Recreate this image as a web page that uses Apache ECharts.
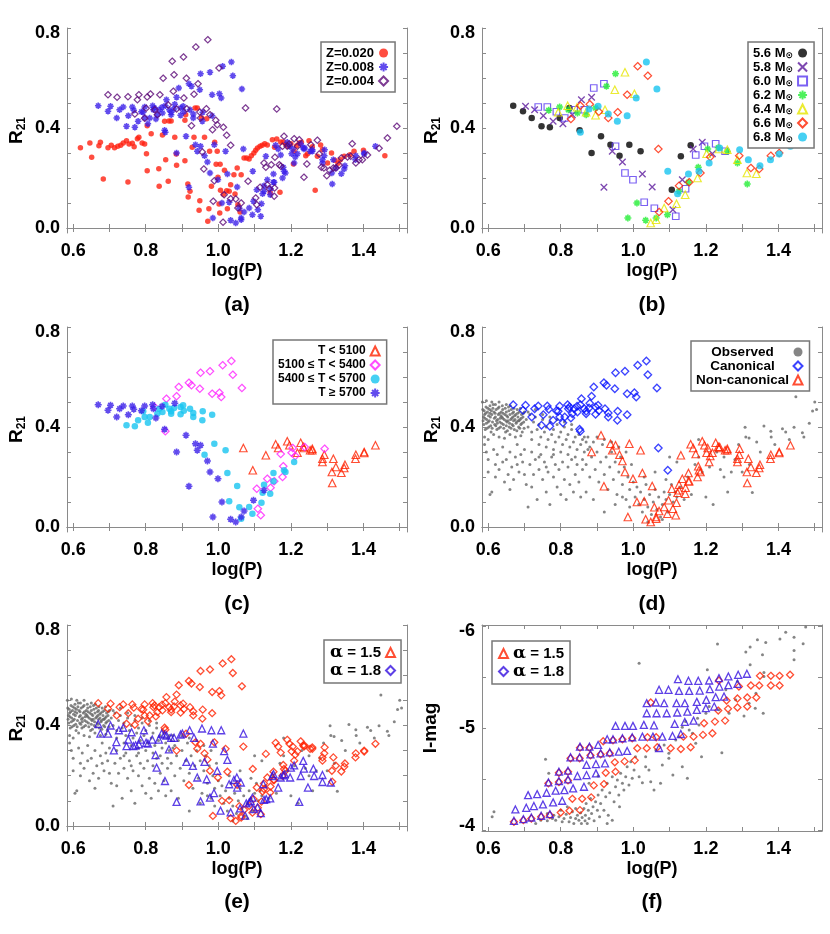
<!DOCTYPE html>
<html>
<head>
<meta charset="utf-8">
<script src="https://cdn.jsdelivr.net/npm/echarts@6.0.0/dist/echarts.min.js"></script>
<style>
html, body { margin: 0; padding: 0; background: #fff; }
#main { width: 830px; height: 934px; }
</style>
</head>
<body>
<div id="main"></div>
<script>
// model points, one array per mass
// each point: [logP, R21, T class (1:<5100 2:5100-5400 3:5400-5700 4:>=5700), canonical 1/0]
var m56 = [[0.669,0.489,4,1],[0.696,0.467,4,1],[0.720,0.440,4,1],[0.747,0.407,3,1],[0.770,0.403,3,1],[0.797,0.440,3,1],[0.824,0.480,2,1],[0.852,0.391,4,1],[0.885,0.300,4,0],[0.911,0.367,4,0],[0.937,0.333,4,0],[0.962,0.289,3,0],[0.989,0.333,3,0],[1.020,0.307,3,0],[1.106,0.153,2,0],[1.131,0.287,1,0],[1.158,0.331,1,0]];
var m58 = [[0.703,0.487,4,1],[0.728,0.473,4,1],[0.752,0.449,4,1],[0.779,0.427,3,1],[0.806,0.417,3,1],[0.832,0.453,3,1],[0.857,0.513,2,1],[0.885,0.523,2,1],[0.919,0.163,4,0],[0.942,0.307,4,0],[0.970,0.264,4,0],[1.025,0.216,3,0],[1.052,0.164,3,0],[1.109,0.073,2,0],[1.135,0.193,2,0],[1.165,0.316,1,0],[1.190,0.343,1,0],[1.218,0.297,1,0]];
var m60 = [[0.738,0.484,4,1],[0.763,0.484,4,1],[0.788,0.465,4,1],[0.811,0.440,3,1],[0.837,0.473,3,1],[0.865,0.473,3,1],[0.891,0.560,2,1],[0.919,0.577,2,1],[0.951,0.327,4,0],[0.977,0.220,4,0],[0.999,0.193,4,0],[1.030,0.103,3,0],[1.058,0.079,3,0],[1.117,0.047,2,0],[1.144,0.157,2,0],[1.172,0.292,2,0],[1.196,0.327,1,0],[1.227,0.337,1,0],[1.253,0.307,1,0]];
var m62 = [[0.767,0.471,4,1],[0.797,0.484,4,1],[0.821,0.473,4,1],[0.846,0.460,3,1],[0.870,0.453,3,1],[0.896,0.480,3,1],[0.926,0.567,2,1],[0.951,0.617,2,1],[0.985,0.040,4,0],[1.010,0.100,4,0],[1.034,0.031,4,0],[1.063,0.040,4,0],[1.094,0.053,3,0],[1.126,0.147,4,0],[1.152,0.183,3,0],[1.179,0.243,2,0],[1.205,0.316,2,0],[1.234,0.321,1,0],[1.259,0.307,1,0],[1.287,0.260,1,0],[1.314,0.176,1,0]];
var m64 = [[0.793,0.463,3,1],[0.819,0.489,4,1],[0.845,0.483,4,1],[0.870,0.463,3,1],[0.896,0.451,3,1],[0.922,0.473,3,1],[0.949,0.553,2,1],[0.977,0.623,2,1],[1.003,0.537,2,1],[1.048,0.020,4,0],[1.063,0.033,3,0],[1.085,0.080,3,0],[1.119,0.097,3,0],[1.143,0.133,3,0],[1.177,0.200,2,0],[1.202,0.297,2,0],[1.236,0.316,1,0],[1.259,0.313,1,0],[1.287,0.273,1,0],[1.313,0.220,1,0],[1.339,0.217,1,0]];
var m66 = [[0.828,0.436,4,1],[0.854,0.489,3,1],[0.880,0.495,4,1],[0.905,0.465,3,1],[0.931,0.440,3,1],[0.957,0.463,3,1],[0.983,0.533,2,1],[1.012,0.647,2,1],[1.040,0.609,2,1],[1.069,0.316,1,1],[1.071,0.064,4,0],[1.097,0.107,4,0],[1.126,0.169,3,0],[1.154,0.183,2,0],[1.185,0.220,3,0],[1.212,0.284,2,0],[1.292,0.289,1,0],[1.324,0.240,1,0],[1.347,0.236,1,0],[1.379,0.289,1,0],[1.402,0.300,1,0]];
var m68 = [[0.854,0.383,2,1],[0.878,0.476,3,1],[0.903,0.487,3,1],[0.931,0.456,3,1],[0.956,0.427,3,1],[0.983,0.449,3,1],[1.008,0.520,2,1],[1.036,0.664,2,1],[1.065,0.556,2,1],[1.095,0.227,1,1],[1.122,0.137,3,0],[1.152,0.216,3,0],[1.181,0.227,3,0],[1.209,0.260,3,0],[1.238,0.320,2,0],[1.293,0.313,2,0],[1.317,0.273,1,0],[1.349,0.249,1,0],[1.378,0.273,1,0],[1.402,0.296,1,0],[1.433,0.327,1,0]];
var massNames = ['5.6 M','5.8 M','6.0 M','6.2 M','6.4 M','6.6 M','6.8 M'];
var tNames = ['T < 5100','5100 \u2264 T < 5400','5400 \u2264 T < 5700','T \u2265 5700'];

// panel (a), other metallicities
var z020 = [[0.620,0.321],[0.646,0.340],[0.651,0.283],[0.671,0.329],[0.675,0.343],[0.683,0.196],[0.696,0.321],[0.705,0.331],[0.714,0.321],[0.723,0.327],[0.731,0.331],[0.738,0.340],[0.747,0.349],[0.754,0.336],[0.763,0.339],[0.768,0.325],[0.777,0.357],[0.781,0.363],[0.790,0.340],[0.797,0.336],[0.751,0.184],[0.802,0.297],[0.804,0.229],[0.815,0.377],[0.837,0.167],[0.836,0.237],[0.846,0.372],[0.804,0.409],[0.852,0.427],[0.855,0.273],[0.862,0.187],[0.864,0.428],[0.870,0.428],[0.880,0.363],[0.885,0.251],[0.884,0.296],[0.908,0.431],[0.908,0.269],[0.916,0.176],[0.922,0.147],[0.917,0.124],[0.928,0.323],[0.933,0.363],[0.936,0.480],[0.910,0.453],[0.942,0.480],[0.947,0.071],[0.949,0.109],[0.954,0.440],[0.962,0.363],[0.968,0.437],[0.971,0.027],[0.976,0.307],[0.974,0.077],[0.981,0.167],[0.990,0.343],[0.994,0.255],[0.997,0.307],[0.999,0.203],[1.002,0.096],[1.004,0.060],[1.005,0.255],[1.006,0.151],[1.014,0.135],[1.017,0.231],[1.023,0.149],[1.025,0.077],[1.030,0.147],[1.034,0.173],[1.043,0.213],[1.046,0.136],[1.052,0.240],[1.054,0.093],[1.060,0.064],[1.063,0.213],[1.071,0.280],[1.078,0.280],[1.085,0.276],[1.091,0.289],[1.098,0.300],[1.103,0.311],[1.108,0.320],[1.115,0.327],[1.121,0.331],[1.128,0.337],[1.135,0.332],[1.143,0.141],[1.149,0.353],[1.155,0.323],[1.161,0.356],[1.170,0.143],[1.172,0.344],[1.179,0.344],[1.186,0.335],[1.192,0.327],[1.200,0.337],[1.207,0.256],[1.209,0.307],[1.216,0.329],[1.223,0.340],[1.229,0.343],[1.241,0.289],[1.246,0.297],[1.250,0.349],[1.259,0.325],[1.267,0.151],[1.273,0.287],[1.282,0.332],[1.287,0.313],[1.301,0.260],[1.312,0.300],[1.321,0.271],[1.330,0.259],[1.336,0.273],[1.347,0.287],[1.363,0.293],[1.374,0.307],[1.400,0.311],[1.459,0.289]];
var z004 = [[0.696,0.533],[0.721,0.523],[0.751,0.525],[0.777,0.513],[0.781,0.533],[0.804,0.524],[0.813,0.536],[0.801,0.479],[0.797,0.439],[0.770,0.456],[0.825,0.473],[0.832,0.453],[0.839,0.533],[0.848,0.599],[0.862,0.492],[0.876,0.547],[0.873,0.667],[0.878,0.613],[0.885,0.476],[0.905,0.520],[0.912,0.599],[0.904,0.684],[0.913,0.477],[0.933,0.535],[0.938,0.724],[0.944,0.577],[0.949,0.464],[0.951,0.440],[0.926,0.409],[0.956,0.304],[0.960,0.236],[0.967,0.477],[0.971,0.753],[0.977,0.453],[0.984,0.393],[0.989,0.189],[0.993,0.431],[0.997,0.413],[1.002,0.640],[0.986,0.107],[1.014,0.403],[1.023,0.371],[1.034,0.331],[1.016,0.133],[1.013,0.023],[1.034,0.117],[1.048,0.116],[1.054,0.080],[1.063,0.100],[1.075,0.480],[1.082,0.187],[1.103,0.120],[1.106,0.093],[1.115,0.163],[1.126,0.260],[1.131,0.243],[1.135,0.173],[1.140,0.157],[1.146,0.253],[1.154,0.127],[1.155,0.160],[1.161,0.476],[1.156,0.283],[1.168,0.253],[1.172,0.247],[1.177,0.327],[1.181,0.367],[1.190,0.327],[1.195,0.336],[1.209,0.357],[1.218,0.327],[1.223,0.353],[1.236,0.203],[1.244,0.256],[1.255,0.333],[1.273,0.351],[1.278,0.296],[1.284,0.243],[1.291,0.240],[1.299,0.209],[1.307,0.231],[1.317,0.240],[1.324,0.240],[1.333,0.252],[1.339,0.280],[1.356,0.284],[1.365,0.287],[1.369,0.337],[1.379,0.260],[1.388,0.273],[1.397,0.273],[1.411,0.292],[1.443,0.319],[1.466,0.360],[1.492,0.407]];

// observed stars, panels (d) and (e)
var obsR21 = [
[0.585,0.47],[0.587,0.44],[0.588,0.41],[0.59,0.45],[0.592,0.39],[0.594,0.48],[0.596,0.43],[0.598,0.46],[0.60,0.42],[0.602,0.40],[0.604,0.47],[0.606,0.44],[0.608,0.38],[0.61,0.45],[0.612,0.42],[0.614,0.49],[0.616,0.46],[0.618,0.41],[0.62,0.44],[0.622,0.47],[0.624,0.39],[0.626,0.43],[0.628,0.45],[0.63,0.48],[0.632,0.42],[0.634,0.40],[0.636,0.46],[0.638,0.44],[0.64,0.47],[0.642,0.41],[0.644,0.43],[0.646,0.45],[0.648,0.38],[0.65,0.46],[0.652,0.42],[0.654,0.44],[0.656,0.48],[0.658,0.40],[0.66,0.45],[0.662,0.43],[0.664,0.47],[0.666,0.41],[0.668,0.44],[0.67,0.46],[0.672,0.39],[0.674,0.43],[0.676,0.45],[0.678,0.42],[0.68,0.47],[0.682,0.44],[0.684,0.40],[0.686,0.46],[0.688,0.43],[0.69,0.41],[0.692,0.45],[0.694,0.38],[0.696,0.44],[0.698,0.42],[0.70,0.46],
[0.59,0.36],[0.60,0.35],[0.615,0.37],[0.63,0.36],[0.645,0.355],[0.66,0.37],[0.675,0.36],[0.69,0.365],[0.595,0.415],[0.605,0.455],[0.625,0.415],[0.635,0.445],[0.655,0.425],[0.665,0.435],[0.685,0.425],[0.605,0.485],[0.62,0.49],[0.64,0.435],[0.65,0.405],[0.67,0.425],
[0.584,0.50],[0.586,0.425],[0.589,0.465],[0.591,0.435],[0.593,0.455],[0.597,0.395],[0.599,0.475],[0.601,0.445],[0.603,0.425],[0.607,0.405],[0.609,0.465],[0.611,0.395],[0.613,0.475],[0.617,0.435],[0.619,0.455],[0.621,0.405],[0.623,0.425],[0.627,0.475],[0.629,0.395],[0.631,0.455],[0.633,0.435],[0.637,0.415],[0.639,0.485],[0.641,0.455],[0.643,0.395],[0.647,0.475],[0.649,0.425],[0.651,0.445],[0.653,0.385],[0.657,0.465],[0.659,0.415],[0.661,0.485],[0.663,0.395],[0.667,0.455],[0.669,0.405],[0.671,0.475],[0.673,0.445],[0.677,0.415],[0.679,0.385],[0.681,0.455],[0.683,0.425],[0.687,0.395],[0.689,0.475],[0.691,0.435],[0.693,0.415],[0.697,0.455],[0.699,0.395],[0.61,0.50],[0.63,0.50],[0.65,0.49],[0.595,0.505],
[0.705,0.43],[0.71,0.40],[0.715,0.45],[0.72,0.38],[0.725,0.42],[0.73,0.44],[0.735,0.39],[0.74,0.41],[0.745,0.36],[0.75,0.43],[0.755,0.38],[0.76,0.40],[0.765,0.35],[0.77,0.42],[0.775,0.37],[0.78,0.39],[0.785,0.34],[0.79,0.41],[0.795,0.36],[0.80,0.38],[0.805,0.33],[0.81,0.40],[0.815,0.35],[0.82,0.37],[0.825,0.32],[0.83,0.39],[0.835,0.34],[0.84,0.36],[0.845,0.31],[0.85,0.37],[0.855,0.33],[0.86,0.35],[0.865,0.30],[0.87,0.34],[0.875,0.36],[0.88,0.32],[0.71,0.46],[0.73,0.47],[0.75,0.45],[0.77,0.44],[0.79,0.43],[0.81,0.42],[0.83,0.41],[0.72,0.35],[0.74,0.33],[0.76,0.32],[0.78,0.31],[0.80,0.30],[0.82,0.29],[0.84,0.28],[0.86,0.27],
[0.59,0.33],[0.595,0.30],[0.60,0.27],[0.605,0.13],[0.61,0.14],[0.615,0.31],[0.62,0.25],[0.625,0.29],[0.63,0.23],[0.64,0.32],[0.645,0.18],[0.65,0.27],[0.655,0.21],[0.66,0.30],[0.665,0.24],[0.67,0.19],[0.675,0.28],[0.68,0.33],[0.685,0.22],[0.69,0.29],[0.695,0.26],[0.70,0.31],[0.705,0.17],[0.71,0.08],[0.715,0.25],[0.72,0.30],[0.725,0.21],[0.73,0.27],[0.735,0.11],[0.74,0.23],[0.745,0.29],[0.75,0.19],[0.755,0.26],[0.76,0.14],[0.765,0.22],[0.77,0.09],[0.775,0.28],[0.78,0.20],[0.785,0.25],[0.79,0.16],[0.795,0.23],[0.80,0.13],[0.805,0.26],[0.81,0.19],[0.815,0.11],[0.82,0.24],[0.825,0.17],[0.83,0.27],[0.835,0.14],[0.84,0.21],[0.845,0.25],[0.85,0.18],[0.855,0.12],[0.86,0.23],[0.60,0.22],[0.62,0.20],[0.64,0.26],[0.66,0.15],[0.68,0.25],[0.70,0.21],[0.72,0.16],[0.74,0.28],[0.76,0.24],[0.78,0.29],
[0.865,0.36],[0.87,0.25],[0.875,0.31],[0.88,0.20],[0.885,0.28],[0.89,0.34],[0.895,0.23],[0.90,0.30],[0.905,0.18],[0.91,0.26],[0.915,0.33],[0.92,0.21],[0.925,0.28],[0.93,0.15],[0.935,0.24],[0.94,0.30],[0.945,0.19],[0.95,0.26],[0.955,0.13],[0.96,0.22],[0.965,0.28],[0.97,0.17],[0.975,0.24],[0.98,0.11],[0.985,0.20],[0.99,0.15],[0.995,0.25],[1.0,0.18],[0.9,0.36],[0.92,0.35],[0.94,0.34],[0.96,0.32],[0.98,0.30],[0.87,0.14],[0.89,0.11],[0.92,0.06],[0.95,0.09],[0.97,0.12],[0.99,0.08],
[1.005,0.12],[1.01,0.16],[1.015,0.09],[1.02,0.14],[1.025,0.06],[1.03,0.11],[1.035,0.17],[1.04,0.08],[1.045,0.13],[1.05,0.05],[1.055,0.10],[1.06,0.15],[1.065,0.07],[1.07,0.12],[1.075,0.04],[1.08,0.09],[1.085,0.14],[1.09,0.11],[1.095,0.06],[1.10,0.13],[1.105,0.17],[1.11,0.10],[1.115,0.14],[1.12,0.12],[1.03,0.20],[1.06,0.22],[1.09,0.19],[1.10,0.28],[1.12,0.26],[1.04,0.02],[1.08,0.03],
[1.13,0.16],[1.14,0.11],[1.15,0.20],[1.16,0.13],[1.17,0.25],[1.18,0.28],[1.19,0.22],[1.20,0.12],[1.21,0.24],[1.22,0.09],[1.23,0.30],[1.24,0.23],[1.25,0.28],[1.26,0.14],[1.27,0.22],[1.28,0.27],[1.29,0.33],[1.30,0.22],[1.31,0.36],[1.32,0.25],[1.328,0.138],[1.34,0.34],[1.35,0.30],[1.36,0.404],[1.379,0.383],[1.38,0.36],[1.39,0.33],[1.411,0.393],[1.42,0.38],[1.43,0.35],[1.443,0.399],[1.448,0.521],[1.466,0.377],[1.47,0.36],[1.485,0.415],[1.494,0.464],[1.50,0.50],[1.505,0.47],[1.25,0.20],[1.308,0.399],[1.18,0.35],[1.319,0.356]
];
// alpha = 1.8 models in R21, panel (e)
var a18R21 = [[0.669,0.406],[0.675,0.368],[0.696,0.368],[0.703,0.400],[0.712,0.301],[0.719,0.334],[0.726,0.381],[0.738,0.391],[0.747,0.318],[0.752,0.344],[0.761,0.373],[0.766,0.318],[0.772,0.321],[0.781,0.325],[0.786,0.344],[0.795,0.381],[0.801,0.331],[0.806,0.328],[0.818,0.344],[0.827,0.282],[0.830,0.232],[0.836,0.344],[0.844,0.368],[0.852,0.364],[0.853,0.179],[0.857,0.360],[0.864,0.305],[0.870,0.351],[0.878,0.351],[0.885,0.096],[0.896,0.364],[0.901,0.368],[0.912,0.255],[0.921,0.381],[0.930,0.239],[0.933,0.351],[0.942,0.193],[0.951,0.098],[0.955,0.388],[0.962,0.255],[0.968,0.186],[0.977,0.113],[0.981,0.381],[0.985,0.328],[0.988,0.131],[0.997,0.219],[1.006,0.061],[1.008,0.381],[1.016,0.298],[1.025,0.263],[1.030,0.166],[1.034,0.054],[1.043,0.183],[1.051,0.193],[1.052,0.153],[1.060,0.070],[1.062,0.173],[1.069,0.368],[1.074,0.041],[1.077,0.090],[1.085,0.094],[1.089,0.100],[1.094,0.113],[1.098,0.067],[1.108,0.074],[1.117,0.051],[1.124,0.166],[1.126,0.104],[1.132,0.107],[1.143,0.110],[1.149,0.199],[1.152,0.206],[1.165,0.153],[1.172,0.193],[1.179,0.202],[1.183,0.206],[1.198,0.193],[1.200,0.232],[1.209,0.241],[1.223,0.096],[1.227,0.199],[1.234,0.259],[1.236,0.228],[1.247,0.153],[1.262,0.228],[1.264,0.199],[1.287,0.203],[1.287,0.175],[1.310,0.173]];

// panel (f): I-band magnitudes
var a18Mag = [[0.671,-4.095],[0.697,-4.111],[0.719,-4.127],[0.746,-4.144],[0.770,-4.160],[0.675,-4.206],[0.705,-4.222],[0.726,-4.239],[0.751,-4.255],[0.779,-4.275],[0.804,-4.291],[0.710,-4.346],[0.735,-4.356],[0.761,-4.369],[0.786,-4.389],[0.810,-4.395],[0.834,-4.412],[0.864,-4.428],[0.766,-4.471],[0.795,-4.484],[0.820,-4.500],[0.846,-4.533],[0.871,-4.542],[0.897,-4.559],[0.795,-4.575],[0.820,-4.585],[0.871,-4.641],[0.897,-4.650],[0.922,-4.657],[0.827,-4.716],[0.852,-4.716],[0.882,-4.745],[0.910,-4.755],[0.935,-4.765],[0.960,-4.771],[0.983,-4.778],[0.853,-4.820],[0.879,-4.820],[0.903,-4.837],[1.071,-4.807],[0.928,-4.892],[0.944,-4.892],[0.970,-4.902],[0.997,-4.912],[1.025,-4.918],[1.054,-4.918],[1.080,-4.918],[1.108,-4.925],[1.131,-4.944],[0.951,-5.023],[0.977,-5.023],[0.999,-5.023],[1.029,-5.033],[1.057,-5.029],[1.114,-5.042],[1.142,-5.062],[1.166,-5.075],[1.037,-5.147],[1.064,-5.147],[1.092,-5.147],[1.121,-5.154],[1.149,-5.163],[1.175,-5.180],[1.200,-5.196],[1.223,-5.212],[1.037,-5.245],[1.062,-5.252],[1.085,-5.245],[1.119,-5.245],[1.142,-5.245],[1.175,-5.258],[1.201,-5.278],[1.227,-5.304],[1.250,-5.310],[1.071,-5.376],[1.097,-5.376],[1.126,-5.366],[1.154,-5.366],[1.183,-5.369],[1.211,-5.382],[1.237,-5.408],[1.262,-5.422],[1.287,-5.435],[1.123,-5.480],[1.152,-5.464],[1.179,-5.464],[1.209,-5.467],[1.236,-5.490],[1.262,-5.507],[1.289,-5.523],[1.313,-5.533]];
var a15Mag = [[0.800,-4.176],[0.824,-4.193],[0.853,-4.199],[0.832,-4.310],[0.859,-4.310],[0.884,-4.324],[0.891,-4.441],[0.919,-4.454],[0.924,-4.565],[0.951,-4.575],[0.949,-4.667],[0.976,-4.676],[1.004,-4.686],[0.917,-4.873],[1.039,-4.912],[1.063,-4.912],[1.011,-4.804],[1.037,-4.804],[1.066,-4.814],[1.236,-5.467],[1.291,-5.408],[1.324,-5.418],[1.347,-5.418],[1.379,-5.418],[1.403,-5.418],[1.349,-5.513],[1.379,-5.513],[1.403,-5.513],[1.432,-5.523],[1.257,-5.271],[1.287,-5.291],[1.314,-5.301],[1.339,-5.301],[1.234,-5.173],[1.261,-5.190],[1.287,-5.203],[1.314,-5.212],[1.195,-5.049],[1.225,-5.065],[1.253,-5.075],[1.138,-4.918],[1.166,-4.918],[1.192,-4.935],[1.218,-4.951],[1.103,-4.804],[1.131,-4.797],[1.158,-4.814],[1.048,-5.252],
[0.671,-4.085],[0.697,-4.101],[0.719,-4.117],[0.746,-4.134],[0.770,-4.150],[0.827,-4.706],[0.852,-4.706],[0.853,-4.810],[0.879,-4.810],[0.882,-4.735],[0.910,-4.745],[0.935,-4.755],[0.944,-4.882],[0.970,-4.892],[0.997,-4.902],[0.795,-4.565],[0.820,-4.575],[0.766,-4.461],[0.795,-4.474],[0.820,-4.490]];
var obsMag = [[1.232,-5.824],[1.310,-5.745],[1.322,-5.794],[1.342,-5.866],[1.365,-5.840],[1.356,-5.719],[1.404,-5.873],[1.443,-5.889],[1.468,-5.827],[1.443,-5.761],[1.443,-5.670],[1.475,-5.990],[1.322,-5.621],[1.204,-5.572],[1.016,-5.637],[1.360,-5.546],[1.336,-5.196],[1.358,-5.147],[1.305,-5.121],[1.244,-4.761],[1.188,-4.722],[1.149,-4.510],[1.109,-4.542],[1.057,-4.395],[1.048,-4.477],[1.080,-4.641],[1.098,-4.706],[1.126,-4.918],[1.135,-5.010],[1.144,-5.065],[1.177,-5.098],[1.209,-5.212],[1.236,-5.180],[1.172,-4.853],[1.034,-4.624],[1.016,-4.526],[1.025,-4.467],[0.758,-4.696],[0.616,-4.183],[0.611,-4.134],
[0.731,-4.069],[0.745,-4.101],[0.763,-4.095],[0.777,-4.118],[0.786,-4.101],[0.795,-4.134],[0.804,-4.085],[0.809,-4.118],[0.815,-4.160],[0.823,-4.085],[0.827,-4.127],[0.832,-4.183],[0.836,-4.069],[0.841,-4.118],[0.846,-4.150],[0.850,-4.101],[0.855,-4.173],[0.857,-4.069],[0.859,-4.127],[0.864,-4.216],[0.867,-4.095],[0.868,-4.150],[0.870,-4.265],[0.873,-4.069],[0.876,-4.199],[0.878,-4.118],[0.882,-4.314],[0.885,-4.167],[0.889,-4.232],[0.892,-4.095],[0.896,-4.281],[0.901,-4.199],[0.903,-4.346],[0.907,-4.134],[0.910,-4.265],[0.914,-4.395],[0.919,-4.199],[0.924,-4.330],[0.928,-4.461],[0.931,-4.150],[0.935,-4.369],[0.942,-4.526],[0.947,-4.281],[0.951,-4.428],[0.956,-4.493],[0.960,-4.346],[0.965,-4.559],[0.970,-4.461],[0.974,-4.395],[0.979,-4.526],[0.983,-4.624],[0.988,-4.444],[0.993,-4.673],[0.997,-4.510],[1.002,-4.592],[1.006,-4.722],[0.942,-4.101],[0.928,-4.069],[0.962,-4.232],[0.841,-4.216],[0.818,-4.232],[0.800,-4.199],[0.781,-4.150],[0.763,-4.167],[0.767,-4.559],[0.878,-4.461],[0.903,-4.533],
[1.034,-4.722],[1.062,-4.788],[1.085,-4.837],[1.098,-4.755],[1.117,-4.886],[1.154,-4.984],[1.163,-4.951],[1.043,-4.592],[1.075,-4.461],[1.135,-4.624],[1.181,-5.033],[1.200,-5.147],[1.264,-5.147],[1.282,-5.278],[1.319,-5.245],[1.338,-5.343],[1.360,-5.507],[1.287,-5.458],[1.255,-5.376],[1.420,-5.938]];

// axes
var xTicks = [0.6,0.7,0.8,0.9,1.0,1.1,1.2,1.3,1.4,1.5];
var xLabels = [0.6,0.8,1.0,1.2,1.4];
var rTicks = [0,0.1,0.2,0.3,0.4,0.5,0.6,0.7,0.8];
var rLabels = [0,0.4,0.8];
var magTicks = [-6,-5.5,-5,-4.5,-4];
var magLabels = [-6,-5,-4];
var panelTags = ['(a)','(b)','(c)','(d)','(e)','(f)'];

var F = '"Liberation Sans", Arial, Helvetica, sans-serif';
var FRAME = '#8a8a8a';
var GRAY = '#666666';
var RED = '#ff2010', BLUE8 = '#3a1ee8', PURP = '#5c0a78';
var ASTER = 'path://M5,0L5,10M0,5L10,5M1.6,1.6L8.4,8.4M8.4,1.6L1.6,8.4';
var CROSS = 'path://M0,0L10,10M10,0L0,10';

var grids = [
    {left:67, top:28, width:340, height:205},
    {left:482, top:28, width:340, height:205},
    {left:67, top:327, width:340, height:205},
    {left:482, top:327, width:340, height:205},
    {left:67, top:625, width:340, height:206},
    {left:482, top:625, width:340, height:206}
];

function xy(p){ return [p[0], p[1]]; }
var allModel = m56.concat(m58, m60, m62, m64, m66, m68);
function byT(t){ return allModel.filter(function(p){ return p[2] === t; }).map(xy); }
function byC(c){ return allModel.filter(function(p){ return p[3] === c; }).map(xy); }

function sc(name, g, data, symbol, size, color, hollow, bw){
    return {
        type:'scatter', name:name, xAxisIndex:2*g, yAxisIndex:2*g, data:data,
        symbol:symbol, symbolSize:size, silent:true, animation:false,
        itemStyle: hollow ? {color:'rgba(0,0,0,0)', borderColor:color, borderWidth:bw || 1.2}
                          : {color:color, borderWidth:0}
    };
}

var xAxes = [], yAxes = [];
for (var g = 0; g < 6; g++) {
    var mag = g === 5;
    var line = {show:true, lineStyle:{color:FRAME, width:1}};
    xAxes.push({
        type:'value', gridIndex:g, position:'bottom', min:0.583, max:1.52,
        axisLine:line, splitLine:{show:false},
        axisTick:{inside:true, length:4, customValues:xTicks, lineStyle:{color:FRAME}},
        axisLabel:{customValues:xLabels, formatter:function(v){ return v.toFixed(1); },
            fontSize:18, fontWeight:'bold', fontFamily:F, color:'#000', margin:9},
        name:'log(P)', nameLocation:'middle', nameGap:29,
        nameTextStyle:{fontSize:18, fontWeight:'bold', fontFamily:F, color:'#000'}
    });
    xAxes.push({
        type:'value', gridIndex:g, position:'top', min:0.583, max:1.52,
        axisLine:line, splitLine:{show:false},
        axisTick:{inside:true, length:4, customValues:xTicks, lineStyle:{color:FRAME}},
        axisLabel:{show:false}
    });
    var ylab = {
        customValues: mag ? magLabels : rLabels,
        formatter: mag ? function(v){
                if (v === -6) return '{t|-6}';
                if (v === -4) return '{b|-4}';
                return String(v);
            } : function(v){ return v === 0.8 ? '{t|0.8}' : v.toFixed(1); },
        fontSize:18, fontWeight:'bold', fontFamily:F, color:'#000', margin:7,
        rich:{
            t:{fontSize:18, fontWeight:'bold', fontFamily:F, color:'#000', padding:[11,0,0,0]},
            b:{fontSize:18, fontWeight:'bold', fontFamily:F, color:'#000', padding:[0,0,8,0]}
        }
    };
    var ylim = mag ? {min:-6.01, max:-3.995, inverse:true} : {min:-0.02, max:0.8};
    yAxes.push(Object.assign({
        type:'value', gridIndex:g, position:'left',
        axisLine:line, splitLine:{show:false},
        axisTick:{inside:true, length:4, customValues: mag ? magTicks : rTicks, lineStyle:{color:FRAME}},
        axisLabel:ylab,
        name: mag ? 'I-mag' : '{r|R}{s|21}', nameLocation:'middle', nameGap: mag ? 42 : 39,
        nameTextStyle:{fontSize:19, fontWeight:'bold', fontFamily:F, color:'#000',
            rich:{
                r:{fontSize:19, fontWeight:'bold', fontFamily:F, color:'#000', lineHeight:22},
                s:{fontSize:12, fontWeight:'bold', fontFamily:F, color:'#000', verticalAlign:'bottom', lineHeight:14}
            }}
    }, ylim));
    yAxes.push(Object.assign({
        type:'value', gridIndex:g, position:'right',
        axisLine:line, splitLine:{show:false},
        axisTick:{inside:true, length:4, customValues: mag ? magTicks : rTicks, lineStyle:{color:FRAME}},
        axisLabel:{show:false}
    }, ylim));
}

var massSym = [
    ['circle', 6.5, '#000000', false],
    [CROSS, 6.5, '#5c1a9c', true, 1.3],
    ['rect', 6.5, '#5a3af0', true, 1.2],
    [ASTER, 7, '#22ee33', true, 1.6],
    ['triangle', 7.5, '#e6e600', true, 1.2],
    ['diamond', 7.5, '#ff2200', true, 1.2],
    ['circle', 7, '#18c4f0', false]
];
var massData = [m56, m58, m60, m62, m64, m66, m68];

var series = [];
// (a)
series.push(sc('Z=0.020', 0, z020, 'circle', 5.5, RED, false));
series.push(sc('Z=0.008', 0, allModel.map(xy), ASTER, 6.5, BLUE8, true, 1.6));
series.push(sc('Z=0.004', 0, z004, 'diamond', 6.5, PURP, true, 1.2));
// (b)
for (var i = 0; i < 7; i++) {
    var s = massSym[i];
    series.push(sc(massNames[i], 1, massData[i].map(xy), s[0], s[1], s[2], s[3], s[4]));
}
// (c)
series.push(sc(tNames[0], 2, byT(1), 'triangle', 7.5, '#ff2200', true, 1.2));
series.push(sc(tNames[1], 2, byT(2), 'diamond', 7.5, '#ff22ff', true, 1.2));
series.push(sc(tNames[2], 2, byT(3), 'circle', 6.5, '#18c4f0', false));
series.push(sc(tNames[3], 2, byT(4), ASTER, 7, BLUE8, true, 1.6));
// (d)
series.push(sc('Observed', 3, obsR21, 'circle', 3, GRAY, false));
series.push(sc('Canonical', 3, byC(1), 'diamond', 7.5, '#0a14ff', true, 1.3));
series.push(sc('Non-canonical', 3, byC(0), 'triangle', 7.5, '#ff2200', true, 1.2));
// (e)
series.push(sc('obs e', 4, obsR21, 'circle', 3, GRAY, false));
series.push(sc('a15 e', 4, allModel.map(xy), 'diamond', 7, '#ff2200', true, 1.3));
series.push(sc('a18 e', 4, a18R21, 'triangle', 7, '#3410e0', true, 1.3));
// (f)
series.push(sc('obs f', 5, obsMag, 'circle', 3, GRAY, false));
series.push(sc('a15 f', 5, a15Mag, 'diamond', 7, '#ff2200', true, 1.3));
series.push(sc('a18 f', 5, a18Mag, 'triangle', 7, '#3410e0', true, 1.3));
// legend-only entries for (e) and (f)
series.push(sc('\u03b1 = 1.5', 4, [], 'triangle', 8, '#ff2200', true, 1.3));
series.push(sc('\u03b1 = 1.8', 4, [], 'diamond', 8, '#3410e0', true, 1.3));

function legendBox(o){
    return Object.assign({
        orient:'vertical', selectedMode:false, align:'right',
        borderColor:'#777', borderWidth:1.5, backgroundColor:'#fff', borderRadius:0,
        itemWidth:9, itemHeight:9, itemGap:0,
        textStyle:{fontSize:13, fontWeight:'bold', fontFamily:F, color:'#000', lineHeight:14}
    }, o);
}
var alphaFmt = function(n){ return '{g|\u03b1}{t|' + n.substring(1) + '}'; };
var alphaRich = {
    g:{fontSize:17, fontFamily:'"DejaVu Serif", serif', color:'#000'},
    t:{fontSize:15, fontWeight:'bold', fontFamily:F, color:'#000'}
};

var legends = [
    legendBox({left:321, top:42, padding:[4,6,4,5], data:['Z=0.020','Z=0.008','Z=0.004']}),
    legendBox({left:748, top:42, padding:[4,6,4,5], data:massNames,
        formatter:function(n){ return '{t|' + n + '}{s|\u2299}'; },
        textStyle:{fontSize:13, fontWeight:'bold', fontFamily:F, color:'#000', lineHeight:14,
            rich:{t:{fontSize:13, fontWeight:'bold', fontFamily:F, color:'#000', lineHeight:14},
                  s:{fontSize:9, fontFamily:'"DejaVu Sans", sans-serif', color:'#000', verticalAlign:'bottom', lineHeight:10}}}}),
    legendBox({left:273, top:340, padding:[4,6,4,5], data:tNames,
        textStyle:{fontSize:12, fontWeight:'bold', fontFamily:F, color:'#000', lineHeight:14}}),
    legendBox({left:691, top:341, padding:[4,6,4,5], data:['Observed','Canonical','Non-canonical'],
        formatter:function(n){ return '{c|' + n + '}'; },
        textStyle:{fontSize:13, fontWeight:'bold', fontFamily:F, color:'#000', lineHeight:14,
            rich:{c:{width:92, align:'center', fontSize:13.5, fontWeight:'bold', fontFamily:F, color:'#000'}}}}),
    legendBox({left:324, top:640, padding:[4,5,4,6], itemGap:1, data:['\u03b1 = 1.5','\u03b1 = 1.8'],
        formatter:alphaFmt, textStyle:{fontSize:15, fontWeight:'bold', fontFamily:F, color:'#000', lineHeight:14, rich:alphaRich}}),
    legendBox({left:492, top:641, padding:[4,6,4,6], itemGap:1, align:'left', data:['\u03b1 = 1.5','\u03b1 = 1.8'],
        formatter:alphaFmt, textStyle:{fontSize:15, fontWeight:'bold', fontFamily:F, color:'#000', lineHeight:14, rich:alphaRich}})
];

var tags = panelTags.map(function(t, i){
    var gr = grids[i];
    return {
        type:'text', x: gr.left + gr.width / 2, y: gr.top + 277, silent:true,
        style:{text:t, align:'center', verticalAlign:'middle', fill:'#000',
            font:'bold 21px "Liberation Sans", Arial, sans-serif'}
    };
});

var chart = echarts.init(document.getElementById('main'), null, {renderer:'canvas'});
chart.setOption({
    backgroundColor:'#fff',
    animation:false,
    grid:grids,
    xAxis:xAxes,
    yAxis:yAxes,
    legend:legends,
    graphic:tags,
    series:series
});
</script>
</body>
</html>
